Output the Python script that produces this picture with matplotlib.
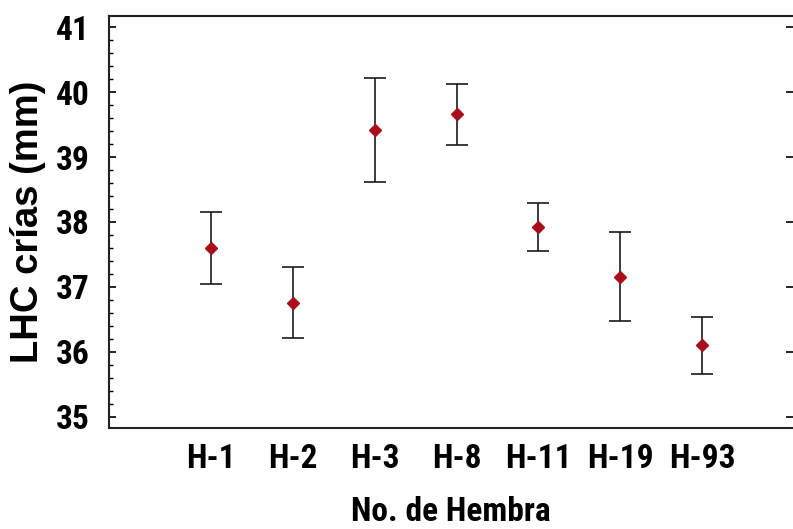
import matplotlib
matplotlib.use("Agg")
import matplotlib.pyplot as plt
from matplotlib.ticker import MultipleLocator

# Mean offspring snout-vent length per female, with interval limits
hembras = ["H-1", "H-2", "H-3", "H-8", "H-11", "H-19", "H-93"]
media = [37.60, 36.76, 39.42, 39.66, 37.92, 37.16, 36.10]
limite_sup = [38.15, 37.31, 40.22, 40.13, 38.30, 37.85, 36.54]
limite_inf = [37.05, 36.21, 38.62, 39.18, 37.56, 36.48, 35.66]

plt.rcParams['font.family'] = ['Roboto Condensed', 'Liberation Sans', 'DejaVu Sans']

fig = plt.figure(figsize=(7.93, 5.29), dpi=100)
W, H = 793, 529
ax = fig.add_axes([109 / W, (H - 428) / H, (W - 109) / W, (428 - 16) / H])

x = list(range(1, len(hembras) + 1))
err_low = [m - lo for m, lo in zip(media, limite_inf)]
err_high = [hi - m for m, hi in zip(media, limite_sup)]

ax.errorbar(x, media, yerr=[err_low, err_high], fmt='none', ecolor='#1a1a1a',
            elinewidth=1.2, capsize=8, capthick=1.2, zorder=2)
ax.plot(x, media, linestyle='none', marker='D', markersize=6.5,
        color='#a80f1a', markeredgecolor='#a80f1a', zorder=3)

ax.set_xlim(-0.246, 8.11)
ax.set_ylim(34.83, 41.17)

ax.set_xticks(x)
ax.set_xticklabels(hembras, fontsize=24, fontweight='bold')
ax.tick_params(axis='x', length=0, pad=11)

ax.yaxis.set_major_locator(MultipleLocator(1))
ax.yaxis.set_minor_locator(MultipleLocator(0.2))
ax.tick_params(axis='y', which='major', direction='in', length=5, width=1.2,
               labelsize=24, pad=14, right=True)
ax.tick_params(axis='y', which='minor', direction='in', length=3, width=1.0,
               left=True, right=False)
for lbl in ax.get_yticklabels():
    lbl.set_fontweight('bold')

ax.spines['right'].set_visible(False)
for side in ('left', 'top', 'bottom'):
    ax.spines[side].set_linewidth(1.5)
    ax.spines[side].set_color('#222222')

ax.set_xlabel("No. de Hembra", fontsize=24, fontweight='bold', labelpad=15)
# the vertical title runs longer than the horizontal texts, so a wider face
ax.set_ylabel("LHC crías (mm)", fontsize=27.5, fontweight='bold', labelpad=7,
              family=['Liberation Sans', 'DejaVu Sans'])

fig.savefig("out.png", dpi=100)
